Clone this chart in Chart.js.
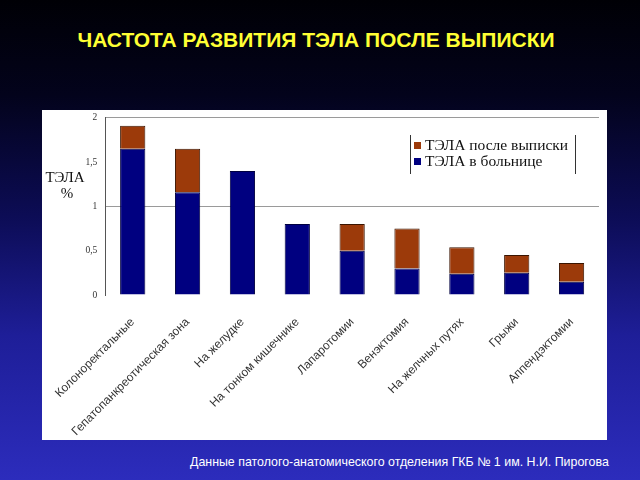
<!DOCTYPE html>
<html>
<head>
<meta charset="utf-8">
<script src="https://cdn.jsdelivr.net/npm/chart.js@4/dist/chart.umd.min.js"></script>
<style>
  html, body { margin: 0; padding: 0; }
  body {
    width: 640px; height: 480px; overflow: hidden; position: relative;
    background: linear-gradient(to bottom, #000005 0%, #03031c 20%, #0c0c55 45%, #1e1e98 70%, #2c2cbc 100%);
    font-family: "Liberation Sans", Arial, sans-serif;
  }
  #title {
    position: absolute; left: 0; top: 28px; width: 632px; text-align: center;
    color: #ffff33; font-weight: bold; font-size: 21px;
  }
  #panel {
    position: absolute; left: 42px; top: 110px; width: 565px; height: 330px; background: #fff;
  }
  #myChart { position: absolute; left: 0; top: -6px; }
  #source {
    position: absolute; left: 190px; top: 455px; color: #fff; font-size: 12.4px;
  }
</style>
</head>
<body>
<div id="title">ЧАСТОТА РАЗВИТИЯ ТЭЛА ПОСЛЕ ВЫПИСКИ</div>
<div id="panel"><canvas id="myChart" width="565" height="336"></canvas></div>
<div id="source">Данные патолого-анатомического отделения ГКБ № 1 им. Н.И. Пирогова</div>
<script>
// categories and the two stacked series (%)
const categories = ['Колоноректальные', 'Гепатопанкреотическая зона', 'На желудке', 'На тонком кишечнике',
  'Лапаротомии', 'Венэктомия', 'На желчных путях', 'Грыжи', 'Аппендэктомии'];
const inHospital = [1.65, 1.16, 1.40, 0.80, 0.50, 0.30, 0.24, 0.25, 0.15];
const afterDischarge = [0.26, 0.49, 0, 0, 0.30, 0.45, 0.30, 0.20, 0.21];
const yTicks = [0, 0.5, 1, 1.5, 2];

// legend box + axis title drawn inside the chart (canvas is 6px above the panel)
const extras = {
  id: 'extras',
  afterDraw(chart) {
    const ctx = chart.ctx;
    ctx.save();
    ctx.translate(0, 6);
    ctx.fillStyle = '#111';
    ctx.font = '15px "Liberation Serif", serif';
    ctx.textAlign = 'center';
    ctx.textBaseline = 'middle';
    ctx.fillText('ТЭЛА', 23, 68);
    ctx.fillText('%', 25, 84);

    // legend
    ctx.strokeStyle = '#333';
    ctx.lineWidth = 1;
    ctx.beginPath();
    ctx.moveTo(368.5, 25); ctx.lineTo(368.5, 64);
    ctx.moveTo(533.5, 25); ctx.lineTo(533.5, 64);
    ctx.stroke();
    ctx.font = '15.5px "Liberation Serif", serif';
    const items = chart.data.datasets.slice().reverse();
    items.forEach((ds, i) => {
      const y = 36 + i * 16;
      ctx.fillStyle = ds.backgroundColor;
      ctx.fillRect(372, y - 4, 7, 7);
      ctx.fillStyle = '#111';
      ctx.textAlign = 'left';
      ctx.fillText(ds.label, 383, y);
    });
    ctx.restore();
  }
};

const config = {
  type: 'bar',
  data: {
    labels: categories,
    datasets: [
      { label: 'ТЭЛА в больнице', data: inHospital, backgroundColor: '#000080',
        borderColor: '#000040', borderWidth: 1, barPercentage: 0.46, categoryPercentage: 1 },
      { label: 'ТЭЛА после выписки', data: afterDischarge, backgroundColor: '#9c3a0a',
        borderColor: '#3a1400', borderWidth: 1, barPercentage: 0.46, categoryPercentage: 1 }
    ]
  },
  options: {
    responsive: false,
    animation: false,
    layout: { padding: { top: 1, right: 8, left: 0, bottom: 0 } },
    plugins: { legend: { display: false }, tooltip: { enabled: false } },
    scales: {
      x: {
        stacked: true,
        grid: { display: false },
        border: { display: false },
        ticks: {
          maxRotation: 45, minRotation: 45, autoSkip: false, color: '#333', padding: 12,
          font: { family: '"Liberation Sans", Arial, sans-serif', size: 12 }
        },
        afterFit(axis) { axis.height = 145; }
      },
      y: {
        stacked: true,
        min: 0, max: 2,
        afterBuildTicks(axis) { axis.ticks = yTicks.map(v => ({ value: v })); },
        grid: {
          color: ctx => (ctx.tick && Number.isInteger(ctx.tick.value) && ctx.tick.value > 0) ? '#9a9a9a' : 'rgba(0,0,0,0)',
          drawTicks: false
        },
        border: { display: true, color: '#555' },
        ticks: {
          color: '#333', padding: 8,
          font: { family: '"Liberation Serif", serif', size: 9.5 },
          callback: v => String(v).replace('.', ',')
        },
        afterFit(axis) { axis.width = 62; }
      }
    }
  },
  plugins: [extras]
};

const myChart = new Chart(document.getElementById('myChart'), config);
</script>
</body>
</html>
